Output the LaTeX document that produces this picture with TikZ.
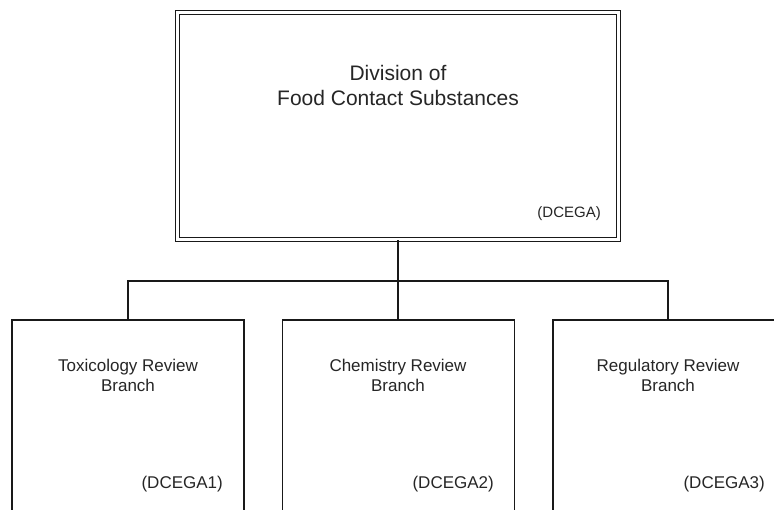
\documentclass[tikz,border=0pt]{standalone}
\usepackage{fontspec}
\setmainfont{Liberation Sans}
\begin{document}
\begin{tikzpicture}[x=1pt,y=-1pt,
  txt/.style={text=black!85, inner sep=0pt, align=center},
  branchbox/.style={draw=black!90, line width=1.6pt, minimum width=232pt, minimum height=200pt, inner sep=0pt},
  topbox/.style={draw=black!90, double=white, double distance=2.2pt, line width=1.3pt, minimum width=441pt, minimum height=227pt, inner sep=0pt},
  link/.style={draw=black!90, line width=1.6pt}]
\useasboundingbox (0,0) rectangle (774,510);
\clip (0,0) rectangle (774,510);
\fill[white] (0,0) rectangle (774,510);

\node[topbox] (top) at (398,126) {};
\node[txt, font=\fontsize{21}{25}\selectfont] (toptext) at (398,85) {Division of\\Food Contact Substances};
\node[txt, font=\fontsize{15}{18}\selectfont, anchor=base east] (topcode) at (601,218) {(DCEGA)};

\node[branchbox] (tox) at (128,420) {};
\node[branchbox] (chem) at (398.5,420) {};
\node[branchbox] (reg) at (669,420) {};

\node[txt, font=\fontsize{17}{20}\selectfont] (toxtext) at (128,375) {Toxicology Review\\Branch};
\node[txt, font=\fontsize{17}{20}\selectfont] (chemtext) at (398,375) {Chemistry Review\\Branch};
\node[txt, font=\fontsize{17}{20}\selectfont] (regtext) at (668,375) {Regulatory Review\\Branch};

\node[txt, font=\fontsize{17}{20}\selectfont, anchor=east] (toxcode) at (223,484) {(DCEGA1)};
\node[txt, font=\fontsize{17}{20}\selectfont, anchor=east] (chemcode) at (494,484) {(DCEGA2)};
\node[txt, font=\fontsize{17}{20}\selectfont, anchor=east] (regcode) at (765,484) {(DCEGA3)};

\coordinate (bus) at (398,281);
\coordinate (toxtop) at (128,320);
\coordinate (chemtop) at (398,320);
\coordinate (regtop) at (668,320);

\draw[link] (top.south -| bus) -- (chemtop);
\draw[link] (toxtop) |- (bus) -| (regtop);
\end{tikzpicture}
\end{document}
